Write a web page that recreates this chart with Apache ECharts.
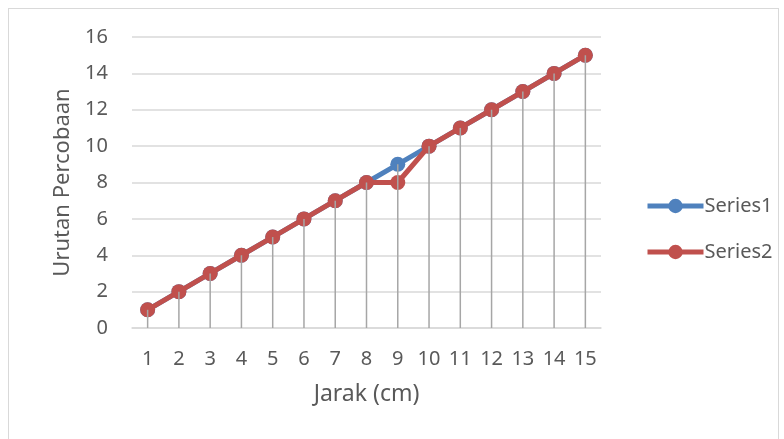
<!DOCTYPE html>
<html>
<head>
<meta charset="utf-8">
<script src="https://cdn.jsdelivr.net/npm/echarts@6/dist/echarts.min.js"></script>
<style>
  html, body { margin: 0; padding: 0; background: #fff; }
  #frame { position: absolute; left: 8px; top: 8px; width: 771px; height: 440px; border: 1px solid #d9d9d9; box-sizing: border-box; }
  #chart { position: absolute; left: 0; top: 0; width: 784px; height: 439px; }
</style>
</head>
<body>
<div id="frame"></div>
<div id="chart"></div>
<script>
// data
const categories = ['1', '2', '3', '4', '5', '6', '7', '8', '9', '10', '11', '12', '13', '14', '15']
const series1 = [1, 2, 3, 4, 5, 6, 7, 8, 9, 10, 11, 12, 13, 14, 15]
const series2 = [1, 2, 3, 4, 5, 6, 7, 8, 8, 10, 11, 12, 13, 14, 15]

const FONT = '"Noto Sans", "Open Sans", sans-serif'
const TEXT_COLOR = '#595959'

// drop lines go from the higher of the two points down to the axis
const dropTops = categories.map((c, i) => [i, Math.max(series1[i], series2[i])])

const chart = echarts.init(document.getElementById('chart'), null, { renderer: 'canvas' })

const option = {
  animation: false,
  color: ['#4f81bd', '#c0504d'],
  grid: {
    left: 132,
    right: 183,
    top: 37,
    bottom: 111
  },
  legend: {
    orient: 'vertical',
    left: 640,
    top: 191,
    itemWidth: 56,
    itemHeight: 18,
    itemGap: 26,
    lineStyle: { width: 5 },
    textStyle: {
      fontFamily: FONT,
      fontSize: 20,
      color: TEXT_COLOR,
      padding: [0, 0, 0, -4]
    },
    data: ['Series1', 'Series2']
  },
  xAxis: {
    type: 'category',
    data: categories,
    boundaryGap: true,
    name: 'Jarak (cm)',
    nameLocation: 'middle',
    nameGap: 55,
    nameTextStyle: {
      fontFamily: FONT,
      fontSize: 23,
      color: TEXT_COLOR
    },
    axisLine: { lineStyle: { color: '#d9d9d9', width: 1.5 } },
    axisTick: { show: false },
    axisLabel: {
      margin: 21,
      fontFamily: FONT,
      fontSize: 20,
      color: TEXT_COLOR
    }
  },
  yAxis: {
    type: 'value',
    min: 0,
    max: 16,
    interval: 2,
    name: 'Urutan Percobaan',
    nameLocation: 'middle',
    nameGap: 57,
    nameTextStyle: {
      fontFamily: FONT,
      fontSize: 22,
      color: TEXT_COLOR
    },
    axisLine: { show: false },
    axisTick: { show: false },
    splitLine: { lineStyle: { color: '#d9d9d9', width: 1.5 } },
    axisLabel: {
      margin: 24,
      fontFamily: FONT,
      fontSize: 20,
      color: TEXT_COLOR
    }
  },
  series: [
    {
      name: 'Series1',
      type: 'line',
      data: series1,
      symbol: 'circle',
      symbolSize: 15,
      lineStyle: { width: 5 },
      z: 2
    },
    {
      name: 'Series2',
      type: 'line',
      data: series2,
      symbol: 'circle',
      symbolSize: 15,
      lineStyle: { width: 5 },
      z: 3
    },
    {
      name: 'drop',
      type: 'custom',
      z: 4,
      silent: true,
      data: dropTops,
      renderItem: function (params, api) {
        const top = api.coord([api.value(0), api.value(1)])
        const bottom = api.coord([api.value(0), 0])
        return {
          type: 'line',
          shape: { x1: top[0], y1: top[1], x2: bottom[0], y2: bottom[1] },
          style: { stroke: '#a6a6a6', lineWidth: 1.5 }
        }
      }
    }
  ]
}

chart.setOption(option)
</script>
</body>
</html>
